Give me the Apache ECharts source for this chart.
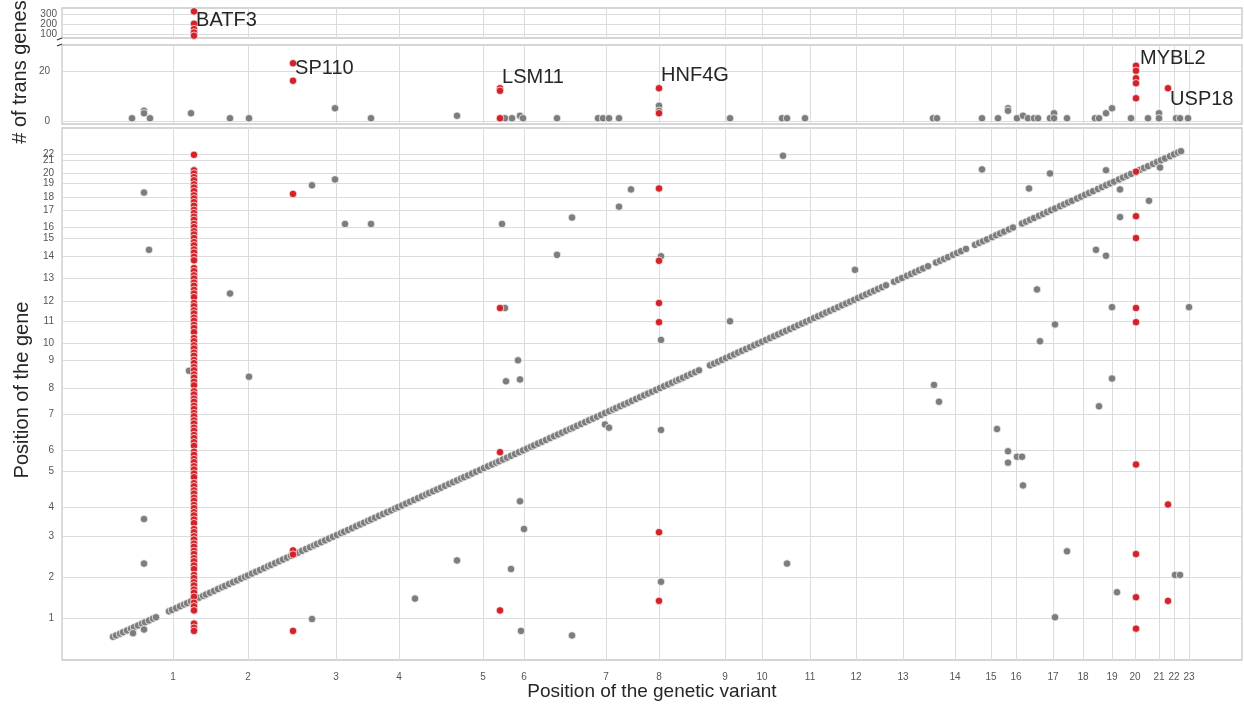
<!DOCTYPE html>
<html><head><meta charset="utf-8">
<script src="https://cdn.jsdelivr.net/npm/echarts@6/dist/echarts.min.js"></script>
<style>html,body{margin:0;padding:0;background:#fff}#c{width:1244px;height:707px}</style>
</head><body><div id="c"></div>
<script>
// ---- tick positions (genome coordinate units) and labels ----
const xTickPos = [111,186,274,337,421,462,544,597,663,700,748,794,841,893,929,954,991,1021,1050,1073,1097,1112,1127];
const xTickLabels = ['1','2','3','4','5','6','7','8','9','10','11','12','13','14','15','16','17','18','19','20','21','22','23'];
const yTickPos = [92,183,272,335,416,461,541,597,660,697,744,790,839,889,927,951,990,1017,1049,1071,1100,1112];
const yTickLabels = ['1','2','3','4','5','6','7','8','9','10','11','12','13','14','15','16','17','18','19','20','21','22'];
const topTicks = [100,200,300];
const midTicks = [0,20];

// ---- cis associations (gene position equals variant position) ----
const cisPos = [51,54,58,61,65,69,72,76,80,83,87,91,94,
107,110,114,118,122,125,129,133,137,141,144,148,152,156,160,163,167,171,175,179,183,186,190,194,198,202,206,209,213,217,221,225,229,232,236,240,244,248,252,255,259,263,267,271,275,279,282,286,290,294,298,302,306,309,313,317,321,325,329,333,336,340,344,348,352,356,360,364,367,371,375,379,383,387,391,395,399,402,406,410,414,418,422,426,430,434,437,441,445,449,453,457,461,465,469,472,476,480,484,488,492,496,500,504,508,511,515,519,523,527,531,535,539,543,547,551,554,558,562,566,570,574,578,582,586,590,594,598,602,606,610,614,617,621,625,629,633,637,
648,652,656,660,664,668,672,676,680,684,688,692,696,700,704,708,712,716,720,724,728,732,736,740,744,748,752,756,760,764,768,772,776,780,784,788,792,796,800,804,808,812,816,820,824,
832,836,840,845,849,853,857,861,866,
874,878,882,886,891,895,899,904,
913,917,921,925,930,934,938,942,947,951,
960,964,968,972,977,981,985,989,993,998,1002,1006,1010,1015,1019,1023,1027,1031,1036,1040,1044,1048,1052,1057,1061,1065,1069,1074,1078,1082,1086,1091,1095,1099,1103,1108,1112,1116,1119];

// ---- trans associations, other variants (variant pos, gene pos) ----
const transGray = [[82,1028],[87,902],[82,310],[82,212],[82,67],[71,59],[127,636],[250,1044],[273,1057],[283,959],[309,959],[168,806],[187,623],[353,135],[395,219],[250,90],
[721,1109],[569,1035],[557,997],[510,973],[440,959],[495,891],[599,888],[793,858],[599,704],[443,774],[668,745],[456,659],[444,613],[458,617],[543,518],[547,511],[599,506],[458,349],[462,288],[449,200],[725,212],[599,172],[459,64],[510,54],
[920,1079],[988,1070],[1044,1077],[1098,1083],[967,1037],[1058,1035],[1087,1010],[1058,974],[1034,902],[1044,889],[975,815],[1050,776],[1127,776],[993,738],[978,701],[1050,619],[872,605],[877,568],[1037,558],[935,508],[946,459],[955,447],[960,447],[946,434],[961,384],[1005,239],[1113,187],[1118,187],[1055,149],[993,94]];

// ---- highlighted variants ----
const batf3Pos = 132;
const batf3Genes = [1111,1077,1070,1062,1055,1046,1039,1031,1022,1015,1007,999,990,983,975,968,959,952,943,936,928,919,912,903,896,887,879,862,855,846,839,830,823,814,806,798,785,778,769,762,753,746,737,730,721,708,701,692,685,676,669,660,653,644,637,628,621,612,604,591,584,575,568,559,552,543,536,527,520,511,504,495,488,479,471,458,451,442,435,426,419,410,402,389,382,373,366,357,350,341,334,325,318,309,301,288,281,272,265,256,249,240,233,224,217,208,200,187,180,171,164,155,148,139,126,118,109,80,71,64];
const batf3Counts = [328,204,150,116,83];
const sp110Pos = 231, sp110Genes = [1025,241,232,64], sp110Counts = [23,16];
const lsm11Pos = 438, lsm11Genes = [774,457,109], lsm11Counts = [13,12,1];
const hnf4gPos = 597, hnf4gGenes = [1037,878,785,743,281,130], hnf4gCounts = [13,3];
const mybl2Pos = 1074, mybl2Genes = [1074,976,928,774,743,430,233,138,69], mybl2Counts = [22,20,17,15,9];
const usp18Pos = 1106, usp18Genes = [342,130], usp18Counts = [13];

// ---- number of trans genes for other variants ----
const midGray = [[70,1],[82,4],[82,3],[88,1],[129,3],[168,1],[187,1],[273,5],[309,1],[395,2],[443,1],[450,1],[458,2],[461,1],[495,1],[536,1],[541,1],[547,1],[557,1],[597,6],[597,4],[668,1],[720,1],[725,1],[743,1],[871,1],[875,1],[920,1],[936,1],[946,5],[946,4],[955,1],[961,2],[966,1],[972,1],[976,1],[988,1],[992,3],[992,1],[1005,1],[1033,1],[1037,1],[1044,3],[1050,5],[1069,1],[1086,1],[1097,3],[1097,1],[1114,1],[1118,1],[1126,1]];

const GRAY = '#7d7d7d', RED = '#d2232a';
const FONT = 'Liberation Sans, Arial, sans-serif';
const GRID = '#dcdcdc';

function lut(pos, labels){ const m = {}; pos.forEach((p,i)=>m[p]=labels[i]); return v => (m[v] !== undefined ? m[v] : ''); }
const xFmt = lut(xTickPos, xTickLabels), yFmt = lut(yTickPos, yTickLabels);

function xAxisFor(gi, showLabels){
  return {type:'value', gridIndex:gi, min:0, max:1180,
    axisLine:{show:false}, axisTick:{show:false, customValues:xTickPos},
    axisLabel:{show:showLabels, customValues:xTickPos, formatter:xFmt, color:'#555', fontSize:10, fontFamily:FONT, margin:12, hideOverlap:false},
    splitLine:{show:true, lineStyle:{color:GRID, width:1}}};
}

function labelled(pt, text, ox, oy){
  return {value:pt, label:{show:true, formatter:text, position:'right', distance:0, offset:[ox,oy], color:'#262626', fontSize:20, fontFamily:FONT}};
}

const redMain = [];
batf3Genes.forEach(g=>redMain.push([batf3Pos,g]));
sp110Genes.forEach(g=>redMain.push([sp110Pos,g]));
lsm11Genes.forEach(g=>redMain.push([lsm11Pos,g]));
hnf4gGenes.forEach(g=>redMain.push([hnf4gPos,g]));
mybl2Genes.forEach(g=>redMain.push([mybl2Pos,g]));
usp18Genes.forEach(g=>redMain.push([usp18Pos,g]));

const redTop = batf3Counts.map((c,i)=> i===0 ? labelled([batf3Pos,c],'BATF3',-2,9) : [batf3Pos,c]);
const redMid = [];
sp110Counts.forEach((c,i)=>redMid.push(i===0?labelled([sp110Pos,c],'SP110',-2,5):[sp110Pos,c]));
lsm11Counts.forEach((c,i)=>redMid.push(i===0?labelled([lsm11Pos,c],'LSM11',-2,-11):[lsm11Pos,c]));
hnf4gCounts.forEach((c,i)=>redMid.push(i===0?labelled([hnf4gPos,c],'HNF4G',-2,-13):[hnf4gPos,c]));
mybl2Counts.forEach((c,i)=>redMid.push(i===0?labelled([mybl2Pos,c],'MYBL2',0,-7.5):[mybl2Pos,c]));
usp18Counts.forEach((c,i)=>redMid.push(i===0?labelled([usp18Pos,c],'USP18',-2,11):[usp18Pos,c]));

function sc(name, xi, yi, data, color, z){
  return {name, type:'scatter', xAxisIndex:xi, yAxisIndex:yi, data, symbolSize:7.5, z,
    itemStyle:{color, borderColor:'#fff', borderWidth:0.7, opacity:1}, emphasis:{disabled:true}};
}

const gridStyle = {show:true, backgroundColor:'#fff', borderColor:'#c8c8c8', borderWidth:1.3, left:62, right:2};
const mainYLabels = yTickPos.slice(0, -1), lastYLabel = yTickPos.slice(-1);

const option = {
  animation:false,
  backgroundColor:'#fff',
  grid:[
    Object.assign({top:8, height:30}, gridStyle),
    Object.assign({top:45, height:79}, gridStyle),
    Object.assign({top:128, height:532}, gridStyle)
  ],
  xAxis:[xAxisFor(0,false), xAxisFor(1,false), xAxisFor(2,true)],
  yAxis:[
    {type:'value', gridIndex:0, min:60, max:362, axisLine:{show:false}, axisTick:{show:false, customValues:topTicks},
      axisLabel:{customValues:topTicks, color:'#555', fontSize:10, fontFamily:FONT, margin:5, hideOverlap:false},
      splitLine:{show:true, lineStyle:{color:GRID}}},
    {type:'value', gridIndex:1, min:-1.3, max:30.3, axisLine:{show:false}, axisTick:{show:false, customValues:midTicks},
      axisLabel:{customValues:midTicks, color:'#555', fontSize:10, fontFamily:FONT, margin:12, hideOverlap:false},
      splitLine:{show:true, lineStyle:{color:GRID}}},
    {type:'value', gridIndex:2, min:0, max:1170, axisLine:{show:false}, axisTick:{show:false, customValues:yTickPos},
      axisLabel:{customValues:mainYLabels, formatter:yFmt, color:'#555', fontSize:10, fontFamily:FONT, margin:8, hideOverlap:false},
      splitLine:{show:true, lineStyle:{color:GRID}}},
    {type:'value', gridIndex:2, position:'left', min:0, max:1170, axisLine:{show:false}, axisTick:{show:false, customValues:lastYLabel},
      axisLabel:{customValues:lastYLabel, formatter:yFmt, color:'#555', fontSize:10, fontFamily:FONT, margin:8, hideOverlap:false},
      splitLine:{show:false}}
  ],
  series:[
    sc('topRed',0,0,redTop,RED,5),
    sc('midGray',1,1,midGray,GRAY,3),
    sc('midRed',1,1,redMid,RED,5),
    sc('cis',2,2,cisPos.map(p=>[p,p]),GRAY,3),
    sc('trans',2,2,transGray,GRAY,3),
    sc('redMain',2,2,redMain,RED,5)
  ],
  graphic:[
    {type:'text', x:20, y:72, rotation:Math.PI/2, style:{text:'# of trans genes', fontSize:20, fontFamily:FONT, fill:'#262626', textAlign:'center', textVerticalAlign:'middle'}},
    {type:'text', x:22, y:390, rotation:Math.PI/2, style:{text:'Position of the gene', fontSize:20, fontFamily:FONT, fill:'#262626', textAlign:'center', textVerticalAlign:'middle'}},
    {type:'text', x:652, y:692, style:{text:'Position of the genetic variant', fontSize:19, fontFamily:FONT, fill:'#262626', textAlign:'center', textVerticalAlign:'middle'}},
    {type:'line', shape:{x1:57,y1:40,x2:62,y2:38}, style:{stroke:'#333', lineWidth:1.3}},
    {type:'line', shape:{x1:57,y1:46,x2:62,y2:44}, style:{stroke:'#333', lineWidth:1.3}}
  ]
};
const chart = echarts.init(document.getElementById('c'), null, {renderer:'canvas'});
chart.setOption(option);
</script></body></html>
